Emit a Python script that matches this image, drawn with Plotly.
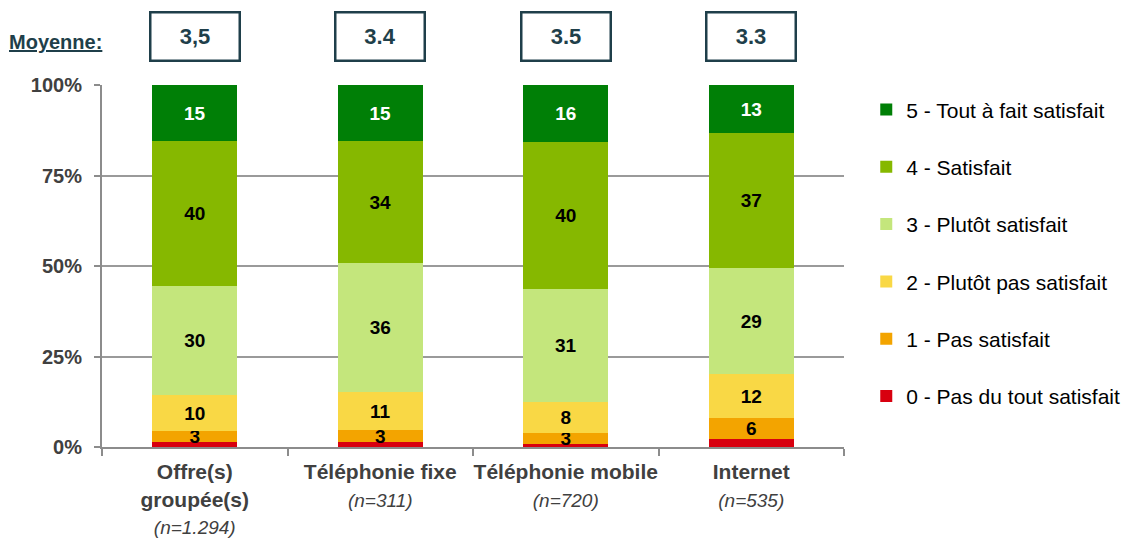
import plotly.graph_objects as go

categories = ["Offre(s) groupée(s)", "Téléphonie fixe", "Téléphonie mobile", "Internet"]
tick_labels = [
    "<b>Offre(s)<br>groupée(s)</b><br><i style='font-size:19px'>(n=1.294)</i>",
    "<b>Téléphonie fixe</b><br><i style='font-size:19px'>(n=311)</i>",
    "<b>Téléphonie mobile</b><br><i style='font-size:19px'>(n=720)</i>",
    "<b>Internet</b><br><i style='font-size:19px'>(n=535)</i>",
]
means = ["3,5", "3.4", "3.5", "3.3"]

# share of respondents (%) per level, bottom to top
level_names = [
    "0 - Pas du tout satisfait",
    "1 - Pas satisfait",
    "2 - Plutôt pas satisfait",
    "3 - Plutôt satisfait",
    "4 - Satisfait",
    "5 - Tout à fait satisfait",
]
level_0 = [1.4, 1.4, 0.8, 2.2]
level_1 = [3.0, 3.2, 3.1, 5.8]
level_2 = [9.9, 10.6, 8.5, 12.1]
level_3 = [30.1, 35.6, 31.2, 29.3]
level_4 = [40.1, 33.7, 40.6, 37.3]
level_5 = [15.5, 15.5, 15.8, 13.3]
level_labels = [
    ["", "", "", ""],
    ["3", "3", "3", "6"],
    ["10", "11", "8", "12"],
    ["30", "36", "31", "29"],
    ["40", "34", "40", "37"],
    ["15", "15", "16", "13"],
]

colors = ["#d8000f", "#f3a400", "#f9d845", "#c4e67c", "#86b800", "#007f06"]
text_colors = ["black", "black", "black", "black", "black", "white"]

FONT = "Arial, Liberation Sans, sans-serif"
GREY = "#404040"
AXIS = "#8c8c8c"
DARK = "#1f3f4a"

fig = go.Figure()
for i, (name, vals, labels, col, tcol) in enumerate(zip(
    level_names,
    [level_0, level_1, level_2, level_3, level_4, level_5],
    level_labels, colors, text_colors,
)):
    fig.add_trace(go.Bar(
        x=categories,
        y=vals,
        name=name,
        legendgroup=name,
        legendrank=100 - i,
        marker=dict(color=col, line=dict(width=0)),
        text=labels,
        textposition="inside",
        insidetextanchor="middle",
        constraintext="none",
        textangle=0,
        textfont=dict(family=FONT, size=19, color=tcol, weight="bold"),
        hovertemplate="%{x}<br>" + name + ": %{y:.1f}%<extra></extra>",
    ))

# mean score boxes above each bar
for cat, m in zip(categories, means):
    fig.add_annotation(
        x=cat, xref="x", y=1.133, yref="paper",
        xanchor="center", yanchor="middle",
        text=f"<b>{m}</b>", showarrow=False,
        width=85, height=44,
        bordercolor=DARK, borderwidth=2.5,
        font=dict(family=FONT, size=22, color=DARK),
    )
fig.add_annotation(
    x=-0.063, xref="paper", y=1.12, yref="paper",
    xanchor="center", yanchor="middle",
    text="<b><u>Moyenne:</u></b>", showarrow=False,
    font=dict(family=FONT, size=20, color=DARK),
)

fig.update_layout(
    width=1122, height=540,
    margin=dict(l=102, r=278, t=85, b=93, autoexpand=False),
    barmode="stack",
    bargap=0.54,
    plot_bgcolor="white",
    paper_bgcolor="white",
    font=dict(family=FONT, color=GREY),
    showlegend=True,
    legend=dict(
        x=1.03, y=0.988, xanchor="left", yanchor="top",
        traceorder="grouped",
        tracegroupgap=27,
        font=dict(family=FONT, size=21, color="black"),
        itemwidth=30,
        maxheight=1,
        bgcolor="rgba(0,0,0,0)",
    ),
)
fig.update_xaxes(
    tickvals=categories, ticktext=tick_labels, tickangle=0,
    tickfont=dict(family=FONT, size=21, color=GREY),
    showline=True, linecolor=AXIS, linewidth=2,
    ticks="outside", tickson="boundaries", ticklen=7, tickcolor=AXIS, tickwidth=2,
    ticklabelstandoff=5,
    showgrid=False, automargin=False,
)
fig.update_yaxes(
    range=[0, 100],
    tickvals=[0, 25, 50, 75, 100],
    ticktext=["<b>0%</b>", "<b>25%</b>", "<b>50%</b>", "<b>75%</b>", "<b>100%</b>"],
    tickfont=dict(family=FONT, size=20, color=GREY),
    showline=True, linecolor=AXIS, linewidth=2,
    ticks="outside", ticklen=6, tickcolor=AXIS, tickwidth=2,
    ticklabelstandoff=8,
    showgrid=True, gridcolor="#9a9a9a", gridwidth=1.5,
    zeroline=False, automargin=False,
)

# drop the browser's default 8px body margin so the figure sits at the page corner
fig.write_html(
    "out.html",
    config={"displayModeBar": False},
    post_script="document.body.style.margin = '0';",
)
